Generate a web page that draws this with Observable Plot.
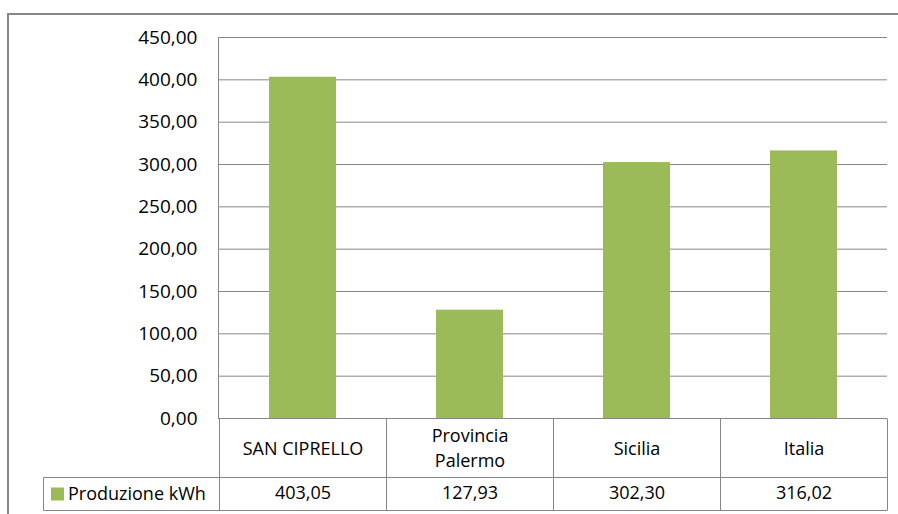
<!DOCTYPE html>
<html><head><meta charset="utf-8">
<script src="https://cdn.jsdelivr.net/npm/d3@7"></script>
<script src="https://cdn.jsdelivr.net/npm/@observablehq/plot@0.6"></script>
<style>
html,body{margin:0;padding:0;background:#fff;overflow:hidden;}
#wrap{position:relative;width:898px;height:514px;overflow:hidden;}
#frame{position:absolute;left:7px;top:13px;width:1000px;height:1000px;border:2px solid #878787;box-sizing:border-box;}
#chart{position:absolute;left:0;top:0;}
</style></head><body>
<div id="wrap"><div id="frame"></div><div id="chart"></div></div>
<script>
const categories = ["SAN CIPRELLO", "Provincia\nPalermo", "Sicilia", "Italia"];
const values = [403.05, 127.93, 302.30, 316.02];
const seriesName = "Produzione kWh";
const yTicks = [0, 50, 100, 150, 200, 250, 300, 350, 400, 450];

const data = categories.map((c, i) => ({category: c, value: values[i]}));
const itLocale = d3.formatLocale({decimal: ",", thousands: ".", grouping: [3], currency: ["", " €"]});
const fmt = itLocale.format(".2f");

const GREEN = "#9BBB59";
const LINE = "#868686";
const FONT = "'Open Sans', sans-serif";

function dataTable(index, scales) {
  const x = scales.x, y = scales.y;
  const bw = x.bandwidth();
  const left = x(categories[0]);
  const right = x(categories[categories.length - 1]) + bw;
  const y0 = Math.round(y(0)) + 0.5;
  const yRow = y0 + 59;
  const yBot = y0 + 92;
  const legendLeft = 43.5;
  const g = d3.create("svg:g").attr("stroke", LINE).attr("stroke-width", 1).attr("fill", "none");
  const hl = (x1, x2, yy) => g.append("line").attr("x1", x1).attr("x2", x2).attr("y1", yy).attr("y2", yy);
  const vl = (xx, y1, y2) => g.append("line").attr("x1", xx).attr("x2", xx).attr("y1", y1).attr("y2", y2);
  hl(left, right, y0);
  hl(legendLeft, right, yRow);
  hl(legendLeft, right, yBot);
  categories.forEach(c => vl(Math.round(x(c)) + 0.5, y0, yBot));
  vl(Math.round(right) + 0.5, y0, yBot);
  vl(legendLeft, yRow, yBot);
  g.append("rect").attr("x", 51).attr("y", yRow + 10).attr("width", 13).attr("height", 13)
    .attr("fill", GREEN).attr("stroke", "none");
  g.append("text").attr("x", 68).attr("y", (yRow + yBot) / 2).attr("dy", "0.35em")
    .attr("text-anchor", "start")
    .attr("fill", "#000").attr("stroke", "none").attr("font-family", FONT).attr("font-size", 18)
    .text(seriesName);
  return g.node();
}

const chart = Plot.plot({
  width: 898,
  height: 514,
  marginLeft: 218,
  marginRight: 11,
  marginTop: 37,
  marginBottom: 96,
  style: {fontFamily: FONT, fontSize: "18px", color: "#000", background: "transparent", overflow: "visible"},
  x: {type: "band", domain: categories, padding: 0, axis: null},
  y: {domain: [0, 450], ticks: yTicks, label: null},
  marks: [
    Plot.gridY(yTicks, {stroke: LINE, strokeOpacity: 1}),
    Plot.barY(data, {x: "category", y: "value", fill: GREEN, insetLeft: 50, insetRight: 50}),
    Plot.frame({anchor: "left", stroke: LINE, strokeOpacity: 1}),
    Plot.axisY(yTicks, {tickSize: 0, tickPadding: 21, tickFormat: fmt, fill: "#000", fontSize: 19, label: null}),
    dataTable,
    Plot.text(data, {x: "category", y: () => 0, text: "category", dy: 28, lineHeight: 1.39, fill: "#000", fontSize: 18}),
    Plot.text(data, {x: "category", y: () => 0, text: d => fmt(d.value), dy: 75, fill: "#000", fontSize: 18})
  ]
});
document.getElementById("chart").appendChild(chart);
</script>
</body></html>
